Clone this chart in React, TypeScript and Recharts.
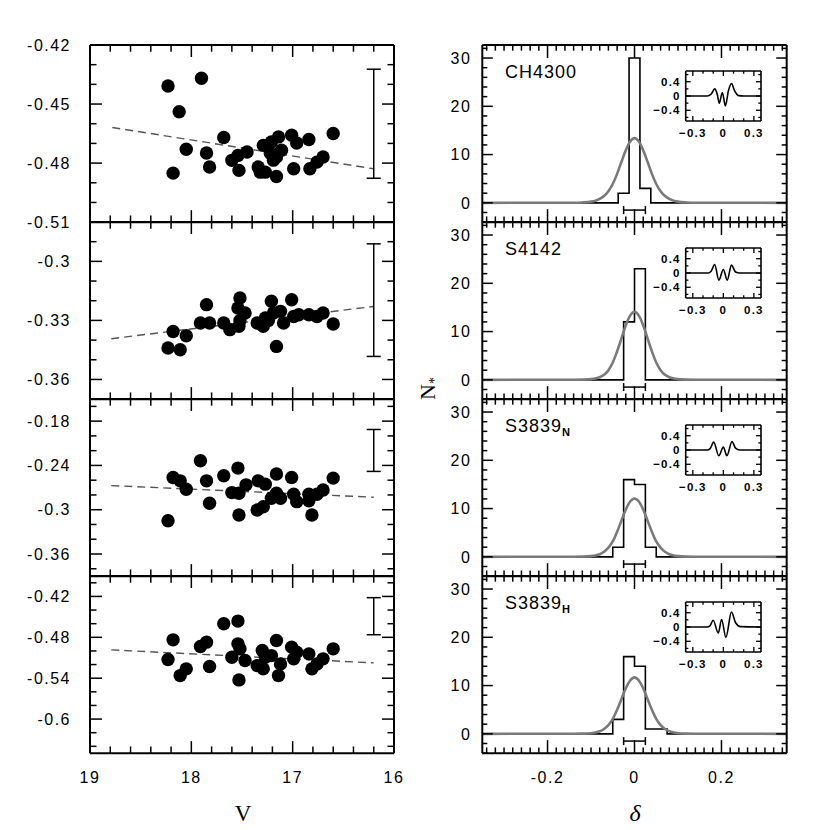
import React from "react";
import { ComposedChart, LineChart, Line, Scatter, XAxis, YAxis, ErrorBar } from "recharts";

// ---------------- data ----------------
const vMajor = [16, 17, 18, 19];
const vDomain = [16, 19];
const errV = 16.2;

// index vs V, one list per feature  [V, index]
const ch4300Pts = [
  [18.23, -0.4408], [17.9, -0.4369], [18.12, -0.4539], [18.18, -0.4851], [18.05, -0.473], [17.85, -0.4749],
  [17.82, -0.482], [17.68, -0.467], [17.6, -0.4786], [17.54, -0.4761], [17.53, -0.4837], [17.45, -0.4744],
  [17.34, -0.482], [17.29, -0.471], [17.32, -0.4846], [17.27, -0.4846], [17.21, -0.4693], [17.14, -0.4667],
  [17.16, -0.4769], [17.11, -0.4735], [17.16, -0.4868], [17.01, -0.4658], [16.96, -0.4698], [16.99, -0.4829],
  [16.84, -0.468], [16.83, -0.4829], [16.76, -0.4795], [16.7, -0.4769], [16.6, -0.465], [17.22, -0.475], [17.19, -0.4785],
];
const s4142Pts = [
  [18.23, -0.344], [18.11, -0.3449], [18.18, -0.3356], [18.05, -0.3378], [17.91, -0.3313], [17.85, -0.322],
  [17.82, -0.3313], [17.68, -0.3313], [17.62, -0.3347], [17.53, -0.333], [17.52, -0.3186], [17.54, -0.3237],
  [17.47, -0.3262], [17.35, -0.3313], [17.29, -0.333], [17.27, -0.3288], [17.21, -0.3203], [17.19, -0.3262],
  [17.12, -0.3254], [17.09, -0.3313], [17.16, -0.3432], [17.01, -0.3195], [16.99, -0.328], [16.94, -0.3271],
  [16.84, -0.3271], [16.76, -0.328], [16.7, -0.3262], [16.6, -0.3318], [17.52, -0.33], [17.24, -0.33],
];
const s3839nPts = [
  [18.23, -0.315], [18.18, -0.2564], [18.11, -0.2609], [18.05, -0.2722], [17.91, -0.2336], [17.85, -0.2609],
  [17.82, -0.2913], [17.68, -0.254], [17.6, -0.2768], [17.54, -0.2436], [17.53, -0.2776], [17.46, -0.2663],
  [17.53, -0.3072], [17.34, -0.2609], [17.35, -0.3004], [17.29, -0.2959], [17.27, -0.2654], [17.16, -0.2517],
  [17.21, -0.2845], [17.12, -0.2845], [17.16, -0.2776], [17.01, -0.2564], [16.99, -0.279], [16.96, -0.2891],
  [16.84, -0.279], [16.81, -0.3072], [16.76, -0.279], [16.7, -0.2732], [16.6, -0.2572], [16.84, -0.288],
];
const s3839hPts = [
  [18.23, -0.5126], [18.18, -0.4837], [18.11, -0.5362], [18.05, -0.5263], [17.91, -0.4935], [17.85, -0.4871],
  [17.82, -0.5229], [17.68, -0.4601], [17.54, -0.4562], [17.54, -0.4896], [17.52, -0.4969], [17.6, -0.5092],
  [17.53, -0.5425], [17.47, -0.5141], [17.35, -0.5215], [17.29, -0.5263], [17.3, -0.4994], [17.27, -0.5092],
  [17.16, -0.4847], [17.21, -0.5068], [17.12, -0.519], [17.14, -0.5362], [17.01, -0.4944], [16.99, -0.5116],
  [16.96, -0.5018], [16.84, -0.5043], [16.81, -0.5263], [16.76, -0.519], [16.7, -0.5116], [16.6, -0.4969],
];
const idxPoints = [ch4300Pts, s4142Pts, s3839nPts, s3839hPts];

// dashed linear fits [V, index]
const idxFits = [
  [[18.78, -0.4619], [16.2, -0.4829]],
  [[18.79, -0.3393], [16.2, -0.3229]],
  [[18.79, -0.2673], [16.2, -0.2831]],
  [[18.79, -0.4984], [16.2, -0.5175]],
];
// typical error bar: [centre, half length]
const idxErr = [[-0.46, 0.0277], [-0.3197, 0.0286], [-0.2197, 0.0284], [-0.449, 0.0272]];

const idxDomains = [[-0.51, -0.42], [-0.37, -0.28], [-0.39, -0.15], [-0.65, -0.39]];
const idxMajor = [
  [-0.51, -0.48, -0.45, -0.42],
  [-0.36, -0.33, -0.3],
  [-0.36, -0.3, -0.24, -0.18],
  [-0.6, -0.54, -0.48, -0.42],
];
const idxStep = [0.01, 0.01, 0.02, 0.02];

// histograms of delta
const features = ["CH4300", "S4142", "S3839", "S3839"];
const featureSub = ["", "", "N", "H"];
const histEdges = [
  [-0.0375, -0.0125, 0.0125, 0.0375],
  [-0.025, 0, 0.025],
  [-0.05, -0.025, 0, 0.025, 0.05],
  [-0.05, -0.025, 0, 0.025, 0.05, 0.075],
];
const histCounts = [[2, 30, 3], [12, 23], [2, 16, 15, 2], [3, 16, 14, 1, 1]];

const gaussX = [-0.35, -0.14, -0.12, -0.1, -0.09, -0.08, -0.07, -0.06, -0.05, -0.04, -0.03, -0.02, -0.01, 0,
  0.01, 0.02, 0.03, 0.04, 0.05, 0.06, 0.07, 0.08, 0.09, 0.1, 0.12, 0.14, 0.35];
const gaussVals = [
  [0, 0.02, 0.08, 0.25, 0.45, 0.8, 1.4, 2.4, 3.9, 6.0, 8.5, 10.9, 12.7, 13.4, 12.7, 10.9, 8.5, 6.0, 3.9, 2.4, 1.4, 0.8, 0.45, 0.25, 0.08, 0.02, 0],
  [0, 0.01, 0.04, 0.14, 0.28, 0.55, 1.05, 2.0, 3.6, 5.9, 8.6, 11.3, 13.3, 14.1, 13.3, 11.3, 8.6, 5.9, 3.6, 2.0, 1.05, 0.55, 0.28, 0.14, 0.04, 0.01, 0],
  [0, 0.01, 0.04, 0.14, 0.28, 0.55, 1.05, 1.9, 3.2, 5.2, 7.5, 9.8, 11.45, 12.1, 11.45, 9.8, 7.5, 5.2, 3.2, 1.9, 1.05, 0.55, 0.28, 0.14, 0.04, 0.01, 0],
  [0, 0.01, 0.04, 0.13, 0.26, 0.52, 1.0, 1.8, 3.1, 5.0, 7.2, 9.45, 11.05, 11.7, 11.05, 9.45, 7.2, 5.0, 3.1, 1.8, 1.0, 0.52, 0.26, 0.13, 0.04, 0.01, 0],
];
const deltaErr = { x: 0, y: -1.5, e: 0.025 };
const deltaDomain = [-0.35, 0.35];
const deltaMajor = [-0.2, 0, 0.2];
const nDomain = [-4, 32.7];
const nMajor = [0, 10, 20, 30];

// insets: residual curves [delta, value]
const insetCurves = [
  [[-0.37, 0], [-0.16, 0], [-0.12, 0.05], [-0.085, 0.2], [-0.06, 0.05], [-0.04, -0.2], [-0.01, 0.1], [0.02, -0.28], [0.05, 0.15], [0.08, 0.35], [0.11, 0.15], [0.15, 0.01], [0.2, 0], [0.37, 0]],
  [[-0.37, 0], [-0.15, 0], [-0.12, 0.05], [-0.085, 0.24], [-0.044, -0.2], [0, 0.1], [0.038, -0.2], [0.08, 0.22], [0.12, 0.03], [0.16, 0], [0.37, 0]],
  [[-0.37, 0], [-0.16, 0], [-0.13, 0.04], [-0.095, 0.22], [-0.045, -0.16], [0, 0.08], [0.035, -0.16], [0.085, 0.24], [0.12, 0.05], [0.16, 0], [0.37, 0]],
  [[-0.37, 0], [-0.16, 0], [-0.13, 0.04], [-0.1, 0.19], [-0.05, -0.17], [-0.017, 0.21], [0.025, -0.29], [0.08, 0.42], [0.12, 0.12], [0.17, 0.01], [0.37, 0]],
];
const insetXDomain = [-0.37, 0.37];
const insetYDomain = [-0.7, 0.7];
const insetXMajor = [-0.3, 0, 0.3];
const insetYMajor = [-0.4, 0, 0.4];

// ---------------- layout ----------------
const PANEL_TOP = 44.7;
const PANEL_H = 177.15;
const FONT = "'Liberation Sans', Arial, Helvetica, sans-serif";
const SERIF = "'Liberation Serif', 'Times New Roman', serif";

function stepTicks(lo: number, hi: number, step: number) {
  const out: number[] = [];
  for (let k = Math.ceil(lo / step - 1e-9); k * step <= hi + 1e-9; k++) out.push(Math.round(k * step * 1e6) / 1e6);
  return out;
}
const fmt2 = (v: number) => String(+v.toFixed(2));
const fmtMinus = (v: number) => (Math.abs(v) < 1e-9 ? "0" : (v < 0 ? "\u2212" : "") + String(+Math.abs(v).toFixed(2)));

type TickOpts = {
  side: "left" | "right" | "top" | "bottom";
  majors: number[];
  majLen: number;
  minLen: number;
  label?: (v: number) => string;
  gap?: number;
  fontSize?: number;
  bold?: boolean;
  ls?: number;
  sw?: number;
};

function makeTick(o: TickOpts) {
  return (p: any) => {
    const v = Number(p.payload?.value);
    const x = Number(p.x);
    const y = Number(p.y);
    const maj = o.majors.some((m) => Math.abs(m - v) < 1e-6);
    const L = maj ? o.majLen : o.minLen;
    let x2 = x;
    let y2 = y;
    if (o.side === "left") x2 = x + L;
    else if (o.side === "right") x2 = x - L;
    else if (o.side === "top") y2 = y + L;
    else y2 = y - L;
    const txt = {
      fontFamily: FONT,
      fontSize: o.fontSize ?? 16,
      fontWeight: o.bold ? "bold" : "normal",
      letterSpacing: o.ls ?? 1.5,
      fill: "#000",
    } as any;
    return (
      <g>
        <line x1={x} y1={y} x2={x2} y2={y2} stroke="#000" strokeWidth={o.sw ?? 1.5} />
        {maj && o.label ? (
          o.side === "left" ? (
            <text x={x - (o.gap ?? 10)} y={y} dy="0.36em" textAnchor="end" {...txt}>
              {o.label(v)}
            </text>
          ) : (
            <text x={x} y={y + (o.gap ?? 20)} textAnchor="middle" {...txt}>
              {o.label(v)}
            </text>
          )
        ) : null}
      </g>
    );
  };
}

const frame = { stroke: "#000", strokeWidth: 2 };
const Dot = (p: any) => <circle cx={p.cx} cy={p.cy} r={6.7} fill="#000" />;
const NoDot = () => <g />;

function LeftPanel({ i }: { i: number }) {
  const top = PANEL_TOP + i * PANEL_H;
  const [lo, hi] = idxDomains[i];
  const pts = idxPoints[i].map(([x, y]) => ({ x, y }));
  const fit = idxFits[i].map(([x, y]) => ({ x, y }));
  const err = [{ x: errV, y: idxErr[i][0], e: idxErr[i][1] }];
  const yt = stepTicks(lo, hi, idxStep[i]);
  const xt = stepTicks(vDomain[0], vDomain[1], 0.2);
  const last = i === 3;
  const H = PANEL_H + 80;
  const common = { type: "number" as const, allowDataOverflow: true, interval: 0 as const, tickLine: false, tickSize: 0, tickMargin: 0, axisLine: frame };
  return (
    <div style={{ position: "absolute", left: 0, top: top - 40, width: 420, height: H }}>
      <ComposedChart width={420} height={H} margin={{ top: 39, right: 25, bottom: 39, left: 30 }}>
        <XAxis xAxisId="b" dataKey="x" domain={vDomain} reversed ticks={xt} height={1} {...common}
          tick={makeTick({ side: "bottom", majors: vMajor, majLen: 12, minLen: 6.7, label: last ? fmt2 : undefined, gap: 30 })} />
        <XAxis xAxisId="t" orientation="top" dataKey="x" domain={vDomain} reversed ticks={xt} height={1} {...common}
          tick={makeTick({ side: "top", majors: vMajor, majLen: 12, minLen: 6.7 })} />
        <YAxis yAxisId="l" domain={[lo, hi]} ticks={yt} width={60} {...common}
          tick={makeTick({ side: "left", majors: idxMajor[i], majLen: 12, minLen: 6.5, label: fmt2, gap: 19 })} />
        <YAxis yAxisId="r" orientation="right" domain={[lo, hi]} ticks={yt} width={1} {...common}
          tick={makeTick({ side: "right", majors: idxMajor[i], majLen: 12, minLen: 6.5 })} />
        <Scatter xAxisId="b" yAxisId="l" data={pts} dataKey="y" shape={Dot} isAnimationActive={false} />
        <Line xAxisId="b" yAxisId="l" data={fit} dataKey="y" type="linear" stroke="#555" strokeWidth={1.4}
          strokeDasharray="8 5" dot={false} activeDot={false} isAnimationActive={false} />
        <Scatter xAxisId="b" yAxisId="l" data={err} dataKey="y" shape={NoDot} isAnimationActive={false}>
          <ErrorBar dataKey="e" direction="y" width={7} stroke="#000" strokeWidth={1.5} isAnimationActive={false} />
        </Scatter>
      </ComposedChart>
    </div>
  );
}

function RightPanel({ i }: { i: number }) {
  const top = PANEL_TOP + i * PANEL_H;
  const edges = histEdges[i];
  const counts = histCounts[i];
  const hist = [
    { x: deltaDomain[0], y: 0 },
    ...edges.map((x, k) => ({ x, y: k < counts.length ? counts[k] : 0 })),
    { x: deltaDomain[1], y: 0 },
  ];
  const gauss = gaussX.map((x, k) => ({ x, y: gaussVals[i][k] }));
  const xt = stepTicks(deltaDomain[0], deltaDomain[1], 0.02);
  const yt = stepTicks(nDomain[0], nDomain[1], 2);
  const last = i === 3;
  const H = PANEL_H + 80;
  const common = { type: "number" as const, allowDataOverflow: true, interval: 0 as const, tickLine: false, tickSize: 0, tickMargin: 0, axisLine: frame };
  return (
    <div style={{ position: "absolute", left: 420, top: top - 40, width: 410, height: H }}>
      <ComposedChart width={410} height={H} margin={{ top: 39, right: 42.3, bottom: 39, left: 1.3 }}>
        <XAxis xAxisId="b" dataKey="x" domain={deltaDomain} ticks={xt} height={1} {...common}
          tick={makeTick({ side: "bottom", majors: deltaMajor, majLen: 13, minLen: 5.7, label: last ? fmt2 : undefined, gap: 30 })} />
        <XAxis xAxisId="t" orientation="top" dataKey="x" domain={deltaDomain} ticks={xt} height={1} {...common}
          tick={makeTick({ side: "top", majors: deltaMajor, majLen: 13, minLen: 5.7 })} />
        <YAxis yAxisId="l" domain={nDomain} ticks={yt} width={61} {...common}
          tick={makeTick({ side: "left", majors: nMajor, majLen: 10.5, minLen: 5, label: fmt2, gap: 11 })} />
        <YAxis yAxisId="r" orientation="right" domain={nDomain} ticks={yt} width={1} {...common}
          tick={makeTick({ side: "right", majors: nMajor, majLen: 10.5, minLen: 5 })} />
        <Line xAxisId="b" yAxisId="l" data={hist} dataKey="y" type="stepAfter" stroke="#000" strokeWidth={1.6}
          dot={false} activeDot={false} isAnimationActive={false} />
        <Line xAxisId="b" yAxisId="l" data={gauss} dataKey="y" type="monotone" stroke="#7a7a7a" strokeWidth={2.6}
          dot={false} activeDot={false} isAnimationActive={false} />
        <Scatter xAxisId="b" yAxisId="l" data={[deltaErr]} dataKey="y" shape={NoDot} isAnimationActive={false}>
          <ErrorBar dataKey="e" direction="x" width={4} stroke="#000" strokeWidth={1.5} isAnimationActive={false} />
        </Scatter>
      </ComposedChart>
    </div>
  );
}

function Inset({ i }: { i: number }) {
  const top = PANEL_TOP + i * PANEL_H + 26;
  const data = insetCurves[i].map(([x, y]) => ({ x, y }));
  const xt = stepTicks(-0.3, 0.3, 0.1);
  const yt = stepTicks(-0.6, 0.6, 0.2);
  const common = { type: "number" as const, allowDataOverflow: true, interval: 0 as const, tickLine: false, tickSize: 0, tickMargin: 0, axisLine: { stroke: "#000", strokeWidth: 1.6 } };
  const lab = { fontSize: 11.5, bold: true, ls: 1.2, sw: 1.3 };
  return (
    <div style={{ position: "absolute", left: 630, top: top - 10, width: 150, height: 90 }}>
      <LineChart width={150} height={90} margin={{ top: 9, right: 18, bottom: 29, left: 1 }}>
        <XAxis xAxisId="b" dataKey="x" domain={insetXDomain} ticks={xt} height={1} {...common}
          tick={makeTick({ side: "bottom", majors: insetXMajor, majLen: 5, minLen: 2.7, label: fmtMinus, gap: 16, ...lab })} />
        <XAxis xAxisId="t" orientation="top" dataKey="x" domain={insetXDomain} ticks={xt} height={1} {...common}
          tick={makeTick({ side: "top", majors: insetXMajor, majLen: 5, minLen: 2.7, ...lab })} />
        <YAxis yAxisId="l" domain={insetYDomain} ticks={yt} width={54.7} {...common}
          tick={makeTick({ side: "left", majors: insetYMajor, majLen: 5, minLen: 2.7, label: fmtMinus, gap: 5, ...lab })} />
        <YAxis yAxisId="r" orientation="right" domain={insetYDomain} ticks={yt} width={1} {...common}
          tick={makeTick({ side: "right", majors: insetYMajor, majLen: 5, minLen: 2.7, ...lab })} />
        <Line xAxisId="b" yAxisId="l" data={data} dataKey="y" type="monotone" stroke="#000" strokeWidth={1.6}
          dot={false} activeDot={false} isAnimationActive={false} />
      </LineChart>
    </div>
  );
}

export default function App() {
  const panels = [0, 1, 2, 3];
  return (
    <div style={{ position: "absolute", left: 0, top: 0, width: 830, height: 830, background: "#fff", overflow: "hidden" }}>
      {panels.map((i) => <LeftPanel key={"l" + i} i={i} />)}
      {panels.map((i) => <RightPanel key={"r" + i} i={i} />)}
      {panels.map((i) => <Inset key={"in" + i} i={i} />)}
      <svg width={830} height={830} style={{ position: "absolute", left: 0, top: 0, pointerEvents: "none" }}>
        {panels.map((i) => (
          <text key={"t" + i} x={505} y={PANEL_TOP + i * PANEL_H + 33} fontFamily={FONT} fontSize={18} letterSpacing={1} fill="#000">
            {features[i]}
            {featureSub[i] ? <tspan fontSize={11} fontWeight="bold" dy={4}>{featureSub[i]}</tspan> : null}
          </text>
        ))}
        <text x={243} y={821} textAnchor="middle" fontFamily={SERIF} fontSize={23} fill="#000">V</text>
        <text x={635} y={821} textAnchor="middle" fontFamily={SERIF} fontStyle="italic" fontSize={24} fill="#000">δ</text>
        <text transform="translate(435,400) rotate(-90)" fontFamily={SERIF} fontSize={22} fill="#000">
          N<tspan fontSize={14} dy={4}>*</tspan>
        </text>
      </svg>
    </div>
  );
}
